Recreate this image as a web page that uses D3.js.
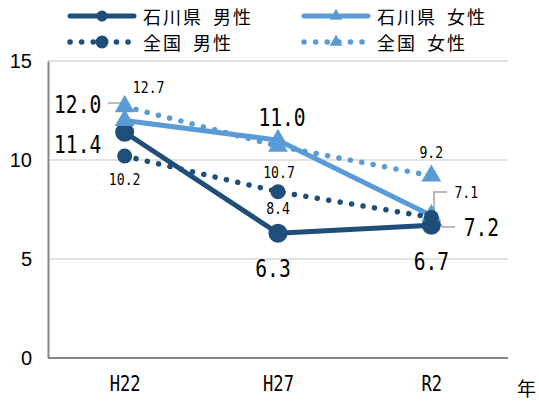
<!DOCTYPE html>
<html><head><meta charset="utf-8">
<script src="https://cdn.jsdelivr.net/npm/d3@7"></script>
<style>html,body{margin:0;padding:0;background:#fff;}svg{display:block;}</style>
</head><body>
<svg id="c" width="539" height="401"></svg>
<script>
// ---- data ----
const categories = ["H22", "H27", "R2"];
const seriesNames = ["石川県 男性", "石川県 女性", "全国 男性", "全国 女性"];
const ishikawaMale = [11.4, 6.3, 6.7];
const ishikawaFemale = [12.0, 11.0, 7.2];
const nationalMale = [10.2, 8.4, 7.1];
const nationalFemale = [12.7, 10.7, 9.2];
const yTicks = [0, 5, 10, 15];
const unitLabel = "年";

// ---- layout / style ----
const dark = "#1f4e79", light = "#5b9bd5";
const series = [
  {name: seriesNames[0], values: ishikawaMale, color: dark, dotted: false, marker: "circle", r: 9.5, big: true,
   labels: [[-47, 12], [-5, 35], [0, 36]]},
  {name: seriesNames[1], values: ishikawaFemale, color: light, dotted: false, marker: "triangle", big: true,
   labels: [[-47, -16], [4, -23], [50, 12]]},
  {name: seriesNames[2], values: nationalMale, color: dark, dotted: true, marker: "circle", r: 7.5, big: false,
   labels: [[0, 23], [0, 17], [35, -25]]},
  {name: seriesNames[3], values: nationalFemale, color: light, dotted: true, marker: "triangle", big: false,
   labels: [[24, -19], [1, 26], [0, -23]]}
];

const svg = d3.select("#c");
const x = d3.scalePoint().domain(categories).range([48, 508]).padding(0.5);
const y = d3.scaleLinear().domain([0, 15]).range([358, 61]);

// gridlines
svg.append("g").selectAll("line").data(yTicks.filter(d => d > 0)).join("line")
  .attr("x1", 48).attr("x2", 508).attr("y1", d => y(d)).attr("y2", d => y(d))
  .attr("stroke", "#d9d9d9").attr("stroke-width", 1.3);

// axes
const yAxis = d3.axisLeft(y).tickValues(yTicks).tickSize(0).tickPadding(16);
const gy = svg.append("g").attr("transform", "translate(48,0)").call(yAxis);
gy.select(".domain").attr("stroke", "#868686").attr("stroke-width", 2);
gy.selectAll("text").attr("font-family", "'Liberation Sans', Arial, sans-serif").attr("font-size", 20).attr("fill", "#000");

const xAxis = d3.axisBottom(x).tickSize(0).tickPadding(17);
const gx = svg.append("g").attr("transform", "translate(0,358)").call(xAxis);
gx.select(".domain").attr("d", "M48,0H508").attr("stroke", "#868686").attr("stroke-width", 2);
gx.selectAll("text").attr("font-family", "'DejaVu Sans Mono', monospace").attr("font-size", 22).attr("fill", "#000")
  .attr("dy", "0.71em")
  .attr("textLength", d => d.length * 10.3).attr("lengthAdjust", "spacingAndGlyphs");

svg.append("text").attr("x", 517).attr("y", 396).attr("font-family", "'Noto Sans CJK JP', sans-serif")
  .attr("font-size", 19).attr("fill", "#000").text(unitLabel);

// leader lines
const leaders = [
  [[108, 103], [122, 103], [125, 120]],
  [[447, 192], [434, 192], [434, 217]],
  [[455, 227], [443, 227], [433, 217]]
];
svg.append("g").selectAll("path").data(leaders).join("path")
  .attr("d", d => d3.line()(d)).attr("fill", "none").attr("stroke", "#a6a6a6").attr("stroke-width", 1.6);

const line = d3.line().x((d, i) => x(categories[i])).y(d => y(d));
const tri = d3.symbol().type(d3.symbolTriangle).size(170);

series.forEach(s => {
  const g = svg.append("g");
  g.append("path").attr("d", line(s.values)).attr("fill", "none").attr("stroke", s.color)
    .attr("stroke-width", s.dotted ? 5.5 : 5).attr("stroke-linecap", "round").attr("stroke-linejoin", "round")
    .attr("stroke-dasharray", s.dotted ? "0.1 11.5" : null);
  s.values.forEach((v, i) => {
    const cx = x(categories[i]), cy = y(v);
    if (s.marker === "circle") g.append("circle").attr("cx", cx).attr("cy", cy).attr("r", s.r).attr("fill", s.color);
    else g.append("path").attr("d", tri).attr("transform", `translate(${cx},${cy})`).attr("fill", s.color);
  });
});

// data labels
series.forEach(s => {
  s.values.forEach((v, i) => {
    const t = v.toFixed(1);
    const [dx, dy] = s.labels[i];
    svg.append("text").attr("x", x(categories[i]) + dx).attr("y", y(v) + dy)
      .attr("text-anchor", "middle").attr("dominant-baseline", "central")
      .attr("font-family", "'DejaVu Sans Mono', monospace")
      .attr("font-size", s.big ? 25 : 16).attr("fill", "#000")
      .attr("textLength", t.length * (s.big ? 11.8 : 7.9)).attr("lengthAdjust", "spacingAndGlyphs")
      .text(t);
  });
});

// legend
const legendPos = [[68, 16], [302, 16], [68, 42], [302, 42]];
series.forEach((s, k) => {
  const [lx, ly] = legendPos[k];
  const g = svg.append("g").attr("transform", `translate(${lx},${ly})`);
  g.append("line").attr("x1", 2).attr("x2", s.dotted ? 64 : 66).attr("y1", 0).attr("y2", 0)
    .attr("stroke", s.color).attr("stroke-width", s.dotted ? 5.5 : 5).attr("stroke-linecap", "round")
    .attr("stroke-dasharray", s.dotted ? "0.1 11.5" : null);
  if (s.marker === "circle") g.append("circle").attr("cx", 34).attr("cy", 0).attr("r", s.dotted ? 6.5 : 5.5).attr("fill", s.color);
  else g.append("path").attr("d", d3.symbol().type(d3.symbolTriangle).size(70)).attr("transform", "translate(34,0)").attr("fill", s.color);
  g.append("text").attr("x", 75).attr("y", 0).attr("dominant-baseline", "central")
    .attr("font-family", "'Noto Sans CJK JP', sans-serif").attr("font-size", 18).attr("fill", "#000")
    .attr("letter-spacing", 2)
    .attr("xml:space", "preserve").style("white-space", "pre").style("word-spacing", "4px")
    .text(s.name);
});
</script>
</body></html>
